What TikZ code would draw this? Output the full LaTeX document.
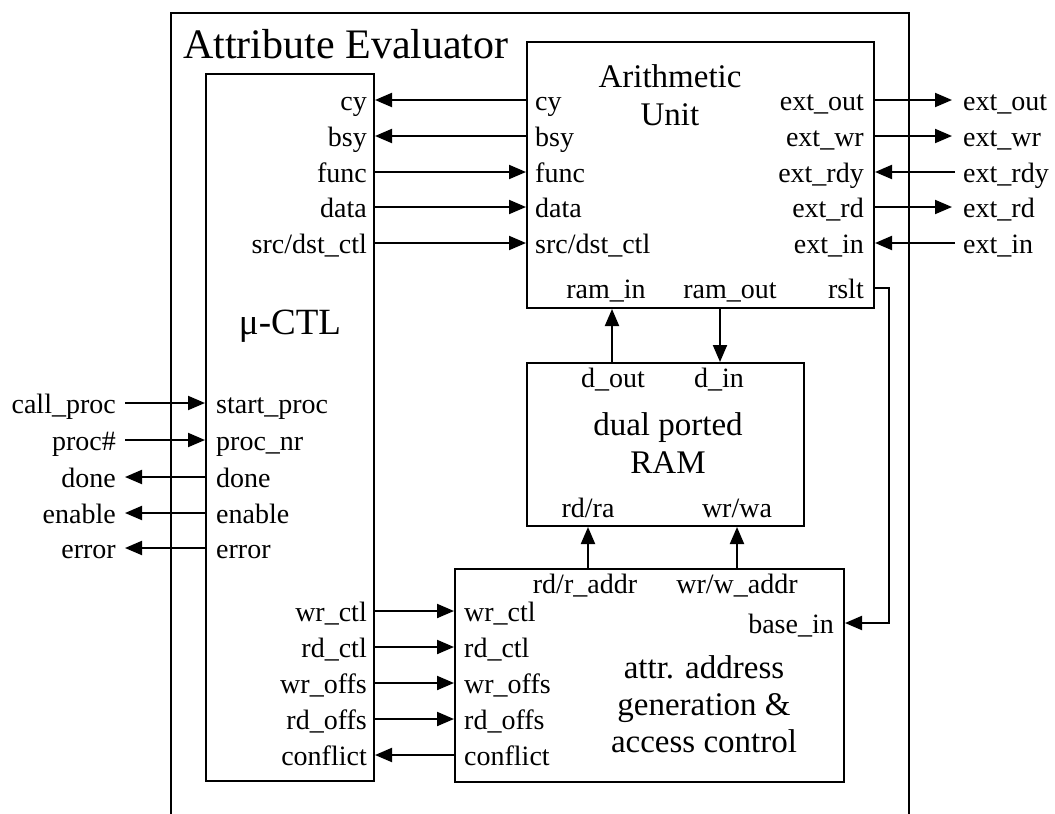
\documentclass[tikz,border=0pt]{standalone}
\usepackage{fontspec}
\setmainfont{Liberation Serif}
\usetikzlibrary{arrows.meta}
\begin{document}
\begin{tikzpicture}[x=1pt,y=-1pt,
  box/.style={draw,line width=2pt,inner sep=0pt,anchor=north west},
  port/.style={inner sep=0pt,text height=24pt,text depth=4pt,font=\fontsize{28}{32}\selectfont},
  bname/.style={inner sep=0pt,font=\fontsize{33}{38}\selectfont},
  wire/.style={line width=2pt,-{Triangle[length=17pt,width=14pt]}},
  plain/.style={line width=2pt}]
\useasboundingbox (0,0) rectangle (1055,814);
% frame
\coordinate (fbl) at (171,814);
\coordinate (ftl) at (171,13);
\coordinate (ftr) at (909,13);
\coordinate (fbr) at (909,814);
\draw[plain] (fbl) -- (ftl) -- (ftr) -- (fbr);
\node[inner sep=0pt,font=\fontsize{42}{48}\selectfont,anchor=base west] (title) at (183,58) {Attribute Evaluator};
% boxes
\node[box,minimum width=168pt,minimum height=707pt] (mctl) at (205,73) {};
\node[box,minimum width=347pt,minimum height=266pt] (au) at (526,41) {};
\node[box,minimum width=277pt,minimum height=163pt] (ram) at (526,362) {};
\node[box,minimum width=389pt,minimum height=213pt] (attr) at (454,568) {};
% block names
\node[inner sep=0pt,font=\fontsize{37}{42}\selectfont,anchor=base] (mname) at (290,334) {μ-CTL};
\node[bname,anchor=base] (aname1) at (670,87) {Arithmetic};
\node[bname,anchor=base] (aname2) at (670,125) {Unit};
\node[bname,anchor=base] (rname1) at (668,435) {dual ported};
\node[bname,anchor=base] (rname2) at (668,473) {RAM};
\node[bname,anchor=base] (gname1) at (704,678) {attr. address};
\node[bname,anchor=base] (gname2) at (704,715) {generation \&};
\node[bname,anchor=base] (gname3) at (704,752) {access control};
% mu-CTL <-> AU
\node[port,anchor=east] (m-cy) at (367,100) {cy};
\node[port,anchor=east] (m-bsy) at (367,136) {bsy};
\node[port,anchor=east] (m-func) at (367,172) {func};
\node[port,anchor=east] (m-data) at (367,207) {data};
\node[port,anchor=east] (m-src) at (367,243) {src/dst\_ctl};
\node[port,anchor=west] (a-cy) at (535,100) {cy};
\node[port,anchor=west] (a-bsy) at (535,136) {bsy};
\node[port,anchor=west] (a-func) at (535,172) {func};
\node[port,anchor=west] (a-data) at (535,207) {data};
\node[port,anchor=west] (a-src) at (535,243) {src/dst\_ctl};
\draw[wire] (a-cy -| au.west) -- (m-cy -| mctl.east);
\draw[wire] (a-bsy -| au.west) -- (m-bsy -| mctl.east);
\draw[wire] (m-func -| mctl.east) -- (a-func -| au.west);
\draw[wire] (m-data -| mctl.east) -- (a-data -| au.west);
\draw[wire] (m-src -| mctl.east) -- (a-src -| au.west);
% AU external
\node[port,anchor=east] (a-eo) at (864,100) {ext\_out};
\node[port,anchor=east] (a-ew) at (864,136) {ext\_wr};
\node[port,anchor=east] (a-ey) at (864,172) {ext\_rdy};
\node[port,anchor=east] (a-ed) at (864,207) {ext\_rd};
\node[port,anchor=east] (a-ei) at (864,243) {ext\_in};
\node[port,anchor=west] (x-eo) at (963,100) {ext\_out};
\node[port,anchor=west] (x-ew) at (963,136) {ext\_wr};
\node[port,anchor=west] (x-ey) at (963,172) {ext\_rdy};
\node[port,anchor=west] (x-ed) at (963,207) {ext\_rd};
\node[port,anchor=west] (x-ei) at (963,243) {ext\_in};
\draw[wire] (a-eo -| au.east) -- ([xshift=-11pt]x-eo.west);
\draw[wire] (a-ew -| au.east) -- ([xshift=-11pt]x-ew.west);
\draw[wire] ([xshift=-8pt]x-ey.west) -- (a-ey -| au.east);
\draw[wire] (a-ed -| au.east) -- ([xshift=-11pt]x-ed.west);
\draw[wire] ([xshift=-8pt]x-ei.west) -- (a-ei -| au.east);
% mu-CTL external
\node[port,anchor=west] (m-sp) at (216,403) {start\_proc};
\node[port,anchor=west] (m-pn) at (216,440) {proc\_nr};
\node[port,anchor=west] (m-dn) at (216,477) {done};
\node[port,anchor=west] (m-en) at (216,513) {enable};
\node[port,anchor=west] (m-er) at (216,548) {error};
\node[port,anchor=east] (x-cp) at (116,403) {call\_proc};
\node[port,anchor=east] (x-pn) at (116,440) {proc\#};
\node[port,anchor=east] (x-dn) at (116,477) {done};
\node[port,anchor=east] (x-en) at (116,513) {enable};
\node[port,anchor=east] (x-er) at (116,548) {error};
\draw[wire] ([xshift=9pt]x-cp.east) -- (x-cp -| mctl.west);
\draw[wire] ([xshift=9pt]x-pn.east) -- (x-pn -| mctl.west);
\draw[wire] (x-dn -| mctl.west) -- ([xshift=9pt]x-dn.east);
\draw[wire] (x-en -| mctl.west) -- ([xshift=9pt]x-en.east);
\draw[wire] (x-er -| mctl.west) -- ([xshift=9pt]x-er.east);
% mu-CTL <-> attr
\node[port,anchor=east] (m-wc) at (367,611) {wr\_ctl};
\node[port,anchor=east] (m-rc) at (367,647) {rd\_ctl};
\node[port,anchor=east] (m-wo) at (367,683) {wr\_offs};
\node[port,anchor=east] (m-ro) at (367,719) {rd\_offs};
\node[port,anchor=east] (m-cf) at (367,755) {conflict};
\node[port,anchor=west] (g-wc) at (464,611) {wr\_ctl};
\node[port,anchor=west] (g-rc) at (464,647) {rd\_ctl};
\node[port,anchor=west] (g-wo) at (464,683) {wr\_offs};
\node[port,anchor=west] (g-ro) at (464,719) {rd\_offs};
\node[port,anchor=west] (g-cf) at (464,755) {conflict};
\draw[wire] (m-wc -| mctl.east) -- (g-wc -| attr.west);
\draw[wire] (m-rc -| mctl.east) -- (g-rc -| attr.west);
\draw[wire] (m-wo -| mctl.east) -- (g-wo -| attr.west);
\draw[wire] (m-ro -| mctl.east) -- (g-ro -| attr.west);
\draw[wire] (g-cf -| attr.west) -- (m-cf -| mctl.east);
% AU bottom, RAM, attr top
\node[port,anchor=base] (a-ri) at (606,298) {ram\_in};
\node[port,anchor=base] (a-ro) at (730,298) {ram\_out};
\node[port,anchor=base east] (a-rs) at (864,298) {rslt};
\node[port,anchor=base] (r-do) at (613,387) {d\_out};
\node[port,anchor=base] (r-di) at (719,387) {d\_in};
\node[port,anchor=base] (r-ra) at (588,517) {rd/ra};
\node[port,anchor=base] (r-wa) at (737,517) {wr/wa};
\node[port,anchor=base] (g-ra) at (585,593) {rd/r\_addr};
\node[port,anchor=base] (g-wa) at (737,593) {wr/w\_addr};
\node[port,anchor=east] (g-bi) at (834,623) {base\_in};
\coordinate (xri) at (612,0);
\coordinate (xro) at (720,0);
\coordinate (xra) at (588,0);
\coordinate (xwa) at (737,0);
\coordinate (xrs) at (889,0);
\draw[wire] (xri |- ram.north) -- (xri |- au.south);
\draw[wire] (xro |- au.south) -- (xro |- ram.north);
\draw[wire] (xra |- attr.north) -- (xra |- ram.south);
\draw[wire] (xwa |- attr.north) -- (xwa |- ram.south);
\draw[wire] (a-rs -| au.east) -| (xrs |- g-bi) -- (g-bi -| attr.east);
\end{tikzpicture}
\end{document}
